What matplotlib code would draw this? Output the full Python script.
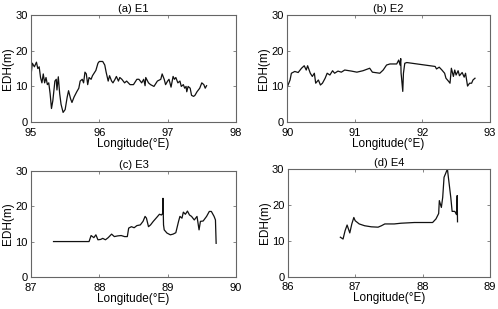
import numpy as np
import matplotlib
matplotlib.use('Agg')
import matplotlib.pyplot as plt

plt.rcParams['font.family'] = ['Liberation Sans', 'DejaVu Sans']

# (a) E1
lon_e1 = [95.00, 95.02, 95.05, 95.08, 95.10, 95.12, 95.14, 95.16, 95.18, 95.20,
          95.22, 95.24, 95.26, 95.28, 95.30, 95.32, 95.35, 95.37, 95.38, 95.40,
          95.42, 95.44, 95.47, 95.50, 95.53, 95.55, 95.58, 95.60, 95.63, 95.67,
          95.70, 95.72, 95.75, 95.77, 95.79, 95.81, 95.83, 95.85, 95.88, 95.90,
          95.95, 95.98, 96.00, 96.05, 96.08, 96.10, 96.13, 96.15, 96.18, 96.20,
          96.23, 96.25, 96.28, 96.30, 96.33, 96.37, 96.40, 96.45, 96.50, 96.55,
          96.58, 96.62, 96.65, 96.67, 96.68, 96.72, 96.75, 96.80, 96.85, 96.90,
          96.92, 96.95, 96.97, 97.00, 97.02, 97.05, 97.08, 97.10, 97.12, 97.15,
          97.18, 97.20, 97.23, 97.25, 97.27, 97.28, 97.30, 97.33, 97.35, 97.38,
          97.40, 97.43, 97.47, 97.50, 97.53, 97.55, 97.57]
edh_e1 = [13.0, 16.5, 15.5, 16.8, 15.0, 15.5, 12.5, 11.0, 13.5, 11.0,
          12.5, 10.5, 11.0, 8.0, 3.8, 6.0, 11.5, 12.0, 9.0, 12.7,
          8.0, 5.0, 2.7, 3.5, 7.0, 8.8, 6.5, 5.5, 7.0, 8.5,
          9.5, 11.5, 12.0, 11.0, 14.0, 13.5, 10.5, 12.5, 12.0, 13.0,
          14.5, 16.5, 17.0, 17.0, 16.0, 14.0, 11.5, 13.0, 11.5, 11.0,
          12.0, 12.8, 11.5, 12.5, 12.0, 11.0, 11.5, 10.5, 10.5, 12.0,
          12.0, 11.0, 12.0, 10.2, 12.5, 11.0, 10.5, 10.0, 11.5, 12.0,
          13.5, 12.0, 10.5, 11.5, 12.0, 9.8, 12.8, 12.0, 12.5, 11.0,
          11.5, 10.0, 10.5, 9.5, 10.0, 8.5, 10.0, 9.5, 7.5, 7.2,
          7.5, 8.5, 9.5, 11.0, 10.5, 9.5, 10.2]

# (b) E2
lon_e2 = [90.00, 90.04, 90.06, 90.11, 90.16, 90.21, 90.25, 90.28, 90.30, 90.34,
          90.37, 90.40, 90.42, 90.46, 90.49, 90.52, 90.56, 90.59, 90.63, 90.67,
          90.70, 90.75, 90.80, 90.85, 90.95, 91.03, 91.12, 91.22, 91.26, 91.37,
          91.42, 91.47, 91.52, 91.58, 91.62, 91.65, 91.67, 91.68, 91.685, 91.69,
          91.71, 91.72, 91.74, 91.77, 92.19, 92.21, 92.25, 92.29, 92.33, 92.35,
          92.39, 92.41, 92.43, 92.46, 92.48, 92.50, 92.53, 92.55, 92.59, 92.62,
          92.64, 92.67, 92.70, 92.73, 92.75, 92.78]
edh_e2 = [9.9, 11.8, 13.7, 14.2, 13.9, 15.1, 15.8, 14.6, 15.8, 13.7,
          12.8, 13.7, 10.9, 11.8, 10.4, 10.9, 12.3, 13.7, 13.2, 14.4,
          13.7, 14.3, 14.0, 14.6, 14.3, 14.0, 14.4, 15.1, 14.0, 13.7,
          14.6, 16.0, 16.3, 16.3, 16.3, 17.4, 16.0, 17.8, 13.7, 12.8,
          8.6, 13.7, 16.5, 16.7, 15.6, 14.9, 15.4, 14.6, 13.7, 12.3,
          11.4, 10.9, 15.1, 12.8, 14.6, 13.2, 14.4, 13.0, 13.9, 12.6,
          13.7, 10.1, 10.9, 10.9, 11.8, 12.3]

# (c) E3
lon_e3 = [87.33, 87.85, 87.88, 87.92, 87.95, 87.98, 88.02, 88.05, 88.09, 88.13,
          88.18, 88.22, 88.27, 88.32, 88.37, 88.41, 88.43, 88.47, 88.51, 88.55,
          88.60, 88.64, 88.67, 88.69, 88.72, 88.75, 88.79, 88.84, 88.88, 88.91,
          88.93, 88.932, 88.94, 88.95, 88.99, 89.04, 89.08, 89.12, 89.16, 89.18,
          89.21, 89.23, 89.26, 89.29, 89.32, 89.35, 89.39, 89.43, 89.46, 89.48,
          89.52, 89.57, 89.61, 89.64, 89.68, 89.70, 89.71]
edh_e3 = [10.0, 10.0, 11.7, 11.1, 11.9, 10.5, 10.6, 10.9, 10.5, 11.1,
          12.1, 11.4, 11.6, 11.7, 11.4, 11.4, 13.8, 14.2, 13.9, 14.5,
          14.7, 15.7, 17.1, 16.6, 14.2, 14.7, 15.7, 16.8, 17.7, 17.5,
          18.0, 22.2, 14.7, 13.3, 12.4, 11.9, 12.1, 12.5, 15.7, 17.1,
          16.6, 18.3, 17.7, 18.6, 17.5, 17.1, 16.1, 17.1, 13.3, 15.7,
          15.8, 17.1, 18.5, 18.5, 17.1, 16.1, 9.5]

# (d) E4
lon_e4 = [86.78, 86.82, 86.85, 86.88, 86.92, 86.95, 86.98, 87.00, 87.06, 87.14,
          87.24, 87.34, 87.39, 87.44, 87.58, 87.68, 87.88, 88.08, 88.15, 88.20,
          88.24, 88.25, 88.28, 88.30, 88.32, 88.34, 88.37, 88.39, 88.42, 88.44,
          88.48, 88.505, 88.515, 88.52]
edh_e4 = [11.0, 10.5, 12.8, 14.4, 12.2, 14.7, 16.5, 15.6, 14.7, 14.2,
          13.9, 13.8, 14.2, 14.7, 14.7, 14.9, 15.1, 15.1, 15.1, 16.1,
          17.6, 21.2, 19.3, 22.1, 27.7, 28.6, 30.0, 26.8, 22.1, 18.2,
          18.2, 17.3, 22.6, 15.3]

panels = [
    ('(a) E1', lon_e1, edh_e1, [95, 96, 97, 98], [0.0622, 0.605, 0.4116, 0.346]),
    ('(b) E2', lon_e2, edh_e2, [90, 91, 92, 93], [0.577, 0.605, 0.4066, 0.346]),
    ('(c) E3', lon_e3, edh_e3, [87, 88, 89, 90], [0.0622, 0.1036, 0.4116, 0.344]),
    ('(d) E4', lon_e4, edh_e4, [86, 87, 88, 89], [0.578, 0.1045, 0.4056, 0.3485]),
]

fig = plt.figure(figsize=(4.98, 3.09), dpi=100)

for title, lon, edh, xt, pos in panels:
    ax = fig.add_axes(pos)
    ax.plot(lon, edh, color='#111111', lw=0.9)
    ax.set_xlim(xt[0], xt[-1])
    ax.set_ylim(0, 30)
    ax.set_xticks(xt)
    ax.set_yticks([0, 10, 20, 30])
    ax.set_title(title, fontsize=8, pad=2)
    ax.set_xlabel('Longitude(°E)', fontsize=8.5, labelpad=0)
    ax.set_ylabel('EDH(m)', fontsize=8.5, labelpad=1)
    ax.tick_params(direction='in', length=2, width=0.5, labelsize=8,
                   top=True, right=True, color='#555555')
    ax.tick_params(axis='x', pad=4)
    ax.tick_params(axis='y', pad=2.5)
    for s in ax.spines.values():
        s.set_color('#666666')
        s.set_linewidth(0.8)

fig.savefig('out.png', dpi=100)
